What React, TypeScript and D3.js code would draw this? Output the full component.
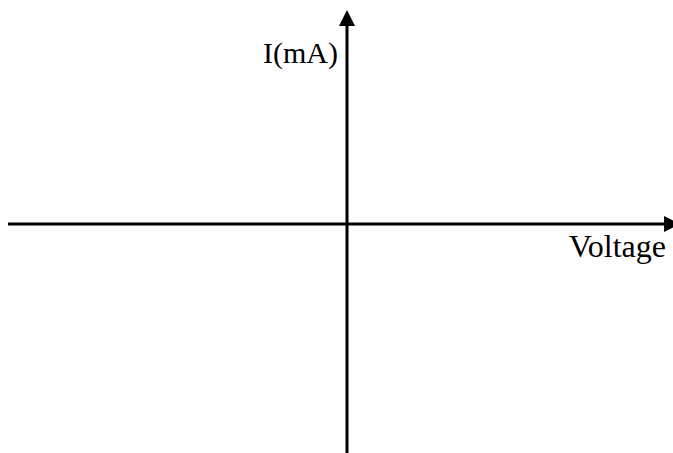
import React from "react";
import * as d3 from "d3";

const xDomain = [-1, 1];
const yDomain = [-1, 1];
const xLabel = "Voltage";
const yLabel = "I(mA)";

const W = 673;
const H = 453;

export default function App() {
  const x = d3.scaleLinear().domain(xDomain).range([8, 686]);
  const y = d3.scaleLinear().domain(yDomain).range([453, -5]);
  const x0 = x(0);
  const y0 = y(0);
  const xEnd = 664;
  const yEnd = 26;
  const arrowLen = 16;
  const arrowHalf = 8;
  const hArrow = d3.path();
  hArrow.moveTo(xEnd, y0 - arrowHalf);
  hArrow.lineTo(xEnd + arrowLen, y0);
  hArrow.lineTo(xEnd, y0 + arrowHalf);
  hArrow.closePath();
  const vArrow = d3.path();
  vArrow.moveTo(x0 - arrowHalf, yEnd);
  vArrow.lineTo(x0, yEnd - arrowLen);
  vArrow.lineTo(x0 + arrowHalf, yEnd);
  vArrow.closePath();
  return (
    <svg
      width={W}
      height={H}
      style={{ position: "absolute", left: 0, top: 0, background: "#fff" }}
    >
      <rect width={W} height={H} fill="#fff" />
      <line x1={x(-1)} x2={xEnd + 2} y1={y0} y2={y0} stroke="#000" strokeWidth={3} />
      <line x1={x0} x2={x0} y1={y(-1)} y2={yEnd - 2} stroke="#000" strokeWidth={3} />
      <path d={hArrow.toString()} fill="#000" />
      <path d={vArrow.toString()} fill="#000" />
      <text
        x={x0 - 9}
        y={63}
        textAnchor="end"
        fontFamily="Liberation Serif, Times New Roman, serif"
        fontSize={30}
        fill="#000"
      >
        {yLabel}
      </text>
      <text
        x={666}
        y={257}
        textAnchor="end"
        fontFamily="Liberation Serif, Times New Roman, serif"
        fontSize={32}
        fill="#000"
      >
        {xLabel}
      </text>
    </svg>
  );
}
